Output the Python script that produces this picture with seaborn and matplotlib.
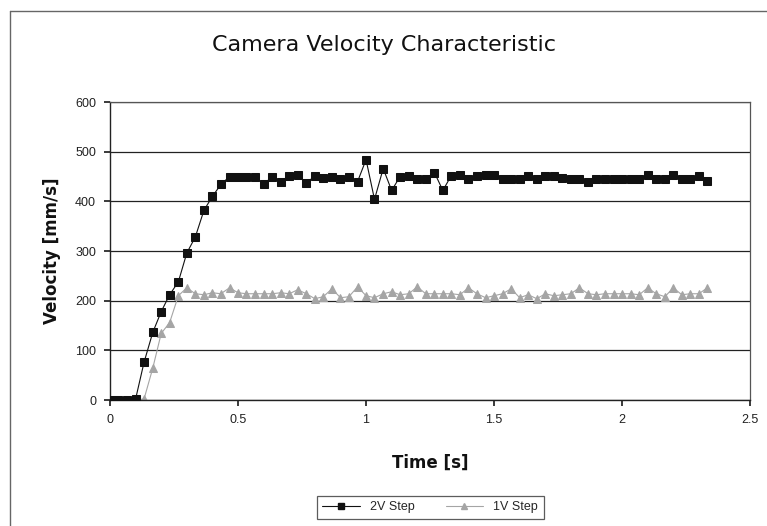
import matplotlib
matplotlib.use("Agg")
import matplotlib.pyplot as plt
import seaborn as sns
import pandas as pd
from matplotlib.lines import Line2D

times = [0, 0.033, 0.067, 0.1, 0.133, 0.167, 0.2, 0.233, 0.267, 0.3,
         0.333, 0.367, 0.4, 0.433, 0.467, 0.5, 0.533, 0.567, 0.6, 0.633,
         0.667, 0.7, 0.733, 0.767, 0.8, 0.833, 0.867, 0.9, 0.933, 0.967,
         1.0, 1.033, 1.067, 1.1, 1.133, 1.167, 1.2, 1.233, 1.267, 1.3,
         1.333, 1.367, 1.4, 1.433, 1.467, 1.5, 1.533, 1.567, 1.6, 1.633,
         1.667, 1.7, 1.733, 1.767, 1.8, 1.833, 1.867, 1.9, 1.933, 1.967,
         2.0, 2.033, 2.067, 2.1, 2.133, 2.167, 2.2, 2.233, 2.267, 2.3, 2.333]

v_2v = [0, 0, 0, 2, 76, 136, 178, 212, 238, 296, 328, 382, 410, 434,
        450, 450, 450, 450,
        434,
        450, 440, 452, 454, 436, 452, 448, 450, 446, 450, 440, 484, 404, 466, 422,
        450, 452, 446, 446, 458, 422, 452, 454, 446, 452, 454, 454, 446, 446, 446, 452, 446, 452,
        452, 448, 446, 446, 440, 446, 446, 446, 446, 446, 446, 454, 446, 446, 454, 446, 446, 452, 442]

v_1v = [0, 0, 0, 0, 2, 64, 134, 156, 210, 226,
        214, 212, 216, 214, 226, 216, 214, 214, 214, 214,
        216, 214, 222, 214, 204, 208, 224, 206, 208, 228,
        210, 206, 214, 218, 212, 214, 228, 214, 214, 214,
        214, 212, 226, 214, 206, 210, 214, 224, 206, 212,
        204, 214, 210, 212, 214, 226, 214, 212, 214, 214,
        214, 214, 212, 226, 214, 208, 226, 212, 214, 214, 226]

series_names = ["2V Step", "1V Step"]
y_ticks = [0, 100, 200, 300, 400, 500, 600]
x_ticks = [0, 0.5, 1, 1.5, 2, 2.5]
x_tick_labels = ["0", "0.5", "1", "1.5", "2", "2.5"]

df = pd.concat([
    pd.DataFrame({"Time": times, "Velocity": v_2v, "Series": series_names[0]}),
    pd.DataFrame({"Time": times, "Velocity": v_1v, "Series": series_names[1]}),
], ignore_index=True)

sns.set_theme(style="white")
plt.rcParams["font.family"] = ["Liberation Sans", "DejaVu Sans"]

fig = plt.figure(figsize=(7.67, 5.26), dpi=100)
ax = fig.add_axes([0.1434, 0.2395, 0.8346, 0.5665])

colors = {"2V Step": "#111111", "1V Step": "#a5a5a5"}
markers = {"2V Step": "s", "1V Step": "^"}

for name in series_names:
    sub = df[df["Series"] == name]
    sns.lineplot(data=sub, x="Time", y="Velocity", ax=ax, color=colors[name],
                 marker=markers[name], markersize=5.5 if name == "2V Step" else 6,
                 markeredgecolor=colors[name], linewidth=0.8, estimator=None,
                 sort=False, legend=False, zorder=3 if name == "2V Step" else 2)

ax.set_xlim(0, 2.5)
ax.set_ylim(0, 600)
ax.set_yticks(y_ticks)
ax.set_xticks(x_ticks)
ax.set_xticklabels(x_tick_labels)
ax.yaxis.grid(True, color="#222222", linewidth=0.9)
ax.xaxis.grid(False)
ax.set_axisbelow(True)
for s in ["left", "bottom"]:
    ax.spines[s].set_color("#222222")
    ax.spines[s].set_linewidth(1.0)
for s in ["top", "right"]:
    ax.spines[s].set_color("#555555")
    ax.spines[s].set_linewidth(0.9)
ax.tick_params(axis="both", labelsize=9, colors="#222222", length=4,
               direction="out", left=True, bottom=True, pad=6)

ax.set_xlabel("Time [s]", fontsize=12, fontweight="bold", labelpad=20, color="#111111",
              family=["DejaVu Sans"])
ax.set_ylabel("Velocity [mm/s]", fontsize=12, fontweight="bold", labelpad=10, color="#111111",
              family=["DejaVu Sans"])
fig.text(0.5, 0.915, "Camera Velocity Characteristic", ha="center", va="center",
         fontsize=16, color="#111111", family=["DejaVu Sans"])

handles = [Line2D([0], [0], color=colors[n], marker=markers[n], markersize=5,
                  linewidth=0.8) for n in series_names]
leg = ax.legend(handles, series_names, loc="center", bbox_to_anchor=(0.5, -0.36),
                ncol=2, frameon=True, fancybox=False, edgecolor="#333333",
                fontsize=9, handlelength=3.0, columnspacing=2.5, borderpad=0.45)
leg.get_frame().set_linewidth(0.9)

# outer chart border
fig.add_artist(Line2D([0.013, 1.0], [0.98, 0.98], color="#666666", linewidth=1.0,
                      transform=fig.transFigure))
fig.add_artist(Line2D([0.013, 0.013], [0.0, 0.98], color="#666666", linewidth=1.0,
                      transform=fig.transFigure))

fig.savefig("out.png", dpi=100, facecolor="white")
